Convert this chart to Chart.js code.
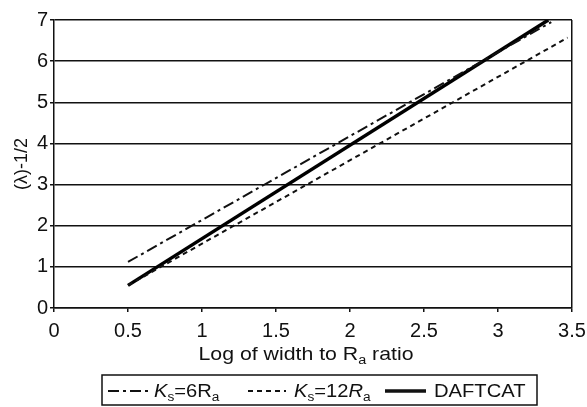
<!DOCTYPE html>
<html>
<head>
<meta charset="utf-8">
<script src="https://cdn.jsdelivr.net/npm/chart.js@4.4.0/dist/chart.umd.min.js"></script>
<style>
  body { margin: 0; background: #fff; }
  #wrap { width: 587px; height: 407px; }
</style>
</head>
<body>
<div id="wrap"><canvas id="myChart" width="587" height="407"></canvas></div>
<script>
// x = log of width to Ra ratio, y = (lambda)^-1/2
let ks6_x = [0.5, 3.36];
let ks6_y = [1.12, 6.95];
let ks12_x = [0.5, 3.47];
let ks12_y = [0.55, 6.57];
let daft_x = [0.5, 3.34];
let daft_y = [0.55, 7.0];

let xTicks = [0, 0.5, 1, 1.5, 2, 2.5, 3, 3.5];
let yTicks = [0, 1, 2, 3, 4, 5, 6, 7];

let yTitle = '(λ)-1/2';
// rich text parts: [text, italic, subscript]
let xTitleParts = [['Log of width to R', false, false], ['a', false, true], [' ratio', false, false]];
let legendParts = [
  [['K', true, false], ['s', false, true], ['=6R', false, false], ['a', false, true]],
  [['K', true, false], ['s', false, true], ['=12', false, false], ['R', true, false], ['a', false, true]],
  [['DAFTCAT', false, false]]
];

const FONT = "'Liberation Sans', Arial, sans-serif";
const STRETCH = 1.12; // the scanned text is a bit wide

function toPoints(xs, ys) {
  let pts = [];
  for (let i in xs) {
    pts.push({ x: xs[i], y: ys[i] });
  }
  return pts;
}

function setFont(ctx, p, size) {
  let s = p[2] ? size * 0.68 : size;
  ctx.font = (p[1] ? 'italic ' : '') + s + 'px ' + FONT;
}

function richWidth(ctx, parts, size) {
  let w = 0;
  for (let p of parts) {
    setFont(ctx, p, size);
    w += ctx.measureText(p[0]).width;
  }
  return w * STRETCH;
}

function drawRich(ctx, parts, x, y, size) {
  ctx.save();
  ctx.translate(x, y);
  ctx.scale(STRETCH, 1);
  let cx = 0;
  for (let p of parts) {
    setFont(ctx, p, size);
    ctx.fillText(p[0], cx, p[2] ? size * 0.22 : 0);
    cx += ctx.measureText(p[0]).width;
  }
  ctx.restore();
}

const extras = {
  id: 'extras',
  afterDraw(chart) {
    let ctx = chart.ctx;
    ctx.save();
    ctx.fillStyle = '#111';
    ctx.textBaseline = 'alphabetic';

    // x axis title
    let tw = richWidth(ctx, xTitleParts, 19);
    drawRich(ctx, xTitleParts, 306 - tw / 2, 360, 19);

    // legend box
    ctx.strokeStyle = '#111';
    ctx.lineWidth = 1.5;
    ctx.strokeRect(102, 375, 435, 30);

    let styles = chart.data.datasets;
    let samples = [[108, 148], [248, 286], [385, 426]];
    let textX = [154, 294, 434];
    for (let i in styles) {
      let ds = styles[i];
      ctx.beginPath();
      ctx.setLineDash(ds.borderDash || []);
      ctx.lineWidth = ds.borderWidth;
      ctx.moveTo(samples[i][0], 391);
      ctx.lineTo(samples[i][1], 391);
      ctx.stroke();
      ctx.setLineDash([]);
      drawRich(ctx, legendParts[i], textX[i], 397, 18);
    }
    ctx.restore();
  }
};

let graphTarget = document.getElementById('myChart');
let lineChart = new Chart(graphTarget, {
  type: 'line',
  data: {
    datasets: [{
      label: 'Ks=6Ra',
      data: toPoints(ks6_x, ks6_y),
      borderColor: '#111',
      borderWidth: 2,
      borderDash: [11, 4, 3, 4],
      pointRadius: 0
    }, {
      label: 'Ks=12Ra',
      data: toPoints(ks12_x, ks12_y),
      borderColor: '#111',
      borderWidth: 2,
      borderDash: [5, 4],
      pointRadius: 0
    }, {
      label: 'DAFTCAT',
      data: toPoints(daft_x, daft_y),
      borderColor: '#000',
      borderWidth: 3.5,
      pointRadius: 0
    }]
  },
  options: {
    responsive: false,
    animation: false,
    layout: { padding: { left: 0, top: 20, right: 15, bottom: 40 } },
    plugins: {
      legend: { display: false },
      tooltip: { enabled: false }
    },
    scales: {
      x: {
        type: 'linear',
        min: 0,
        max: 3.5,
        afterBuildTicks: function(scale) {
          scale.ticks = xTicks.map(v => ({ value: v }));
        },
        afterFit: function(scale) {
          scale.height = 59;
          scale.paddingLeft = 0;
          scale.paddingRight = 0;
        },
        ticks: {
          color: '#111',
          font: { family: FONT, size: 20 },
          padding: 7,
          maxRotation: 0,
          callback: function(value) { return value + ''; }
        },
        grid: {
          color: ctx => ctx.tick && ctx.tick.value === 3.5 ? '#111' : 'rgba(0,0,0,0)',
          tickColor: '#111',
          lineWidth: 1.5,
          tickLength: 4
        },
        border: { color: '#111', width: 1.5 }
      },
      y: {
        min: 0,
        max: 7,
        afterBuildTicks: function(scale) {
          scale.ticks = yTicks.map(v => ({ value: v }));
        },
        afterFit: function(scale) {
          scale.width = 54;
          scale.paddingTop = 0;
          scale.paddingBottom = 0;
        },
        title: {
          display: true,
          text: yTitle,
          color: '#111',
          font: { family: FONT, size: 18 },
          padding: { top: 11, bottom: 0 }
        },
        ticks: {
          color: '#111',
          font: { family: FONT, size: 20 },
          padding: 2,
          callback: function(value) { return value + ''; }
        },
        grid: {
          color: '#111',
          lineWidth: 1.5,
          tickLength: 4
        },
        border: { color: '#111', width: 1.5 }
      }
    }
  },
  plugins: [extras]
});
</script>
</body>
</html>
